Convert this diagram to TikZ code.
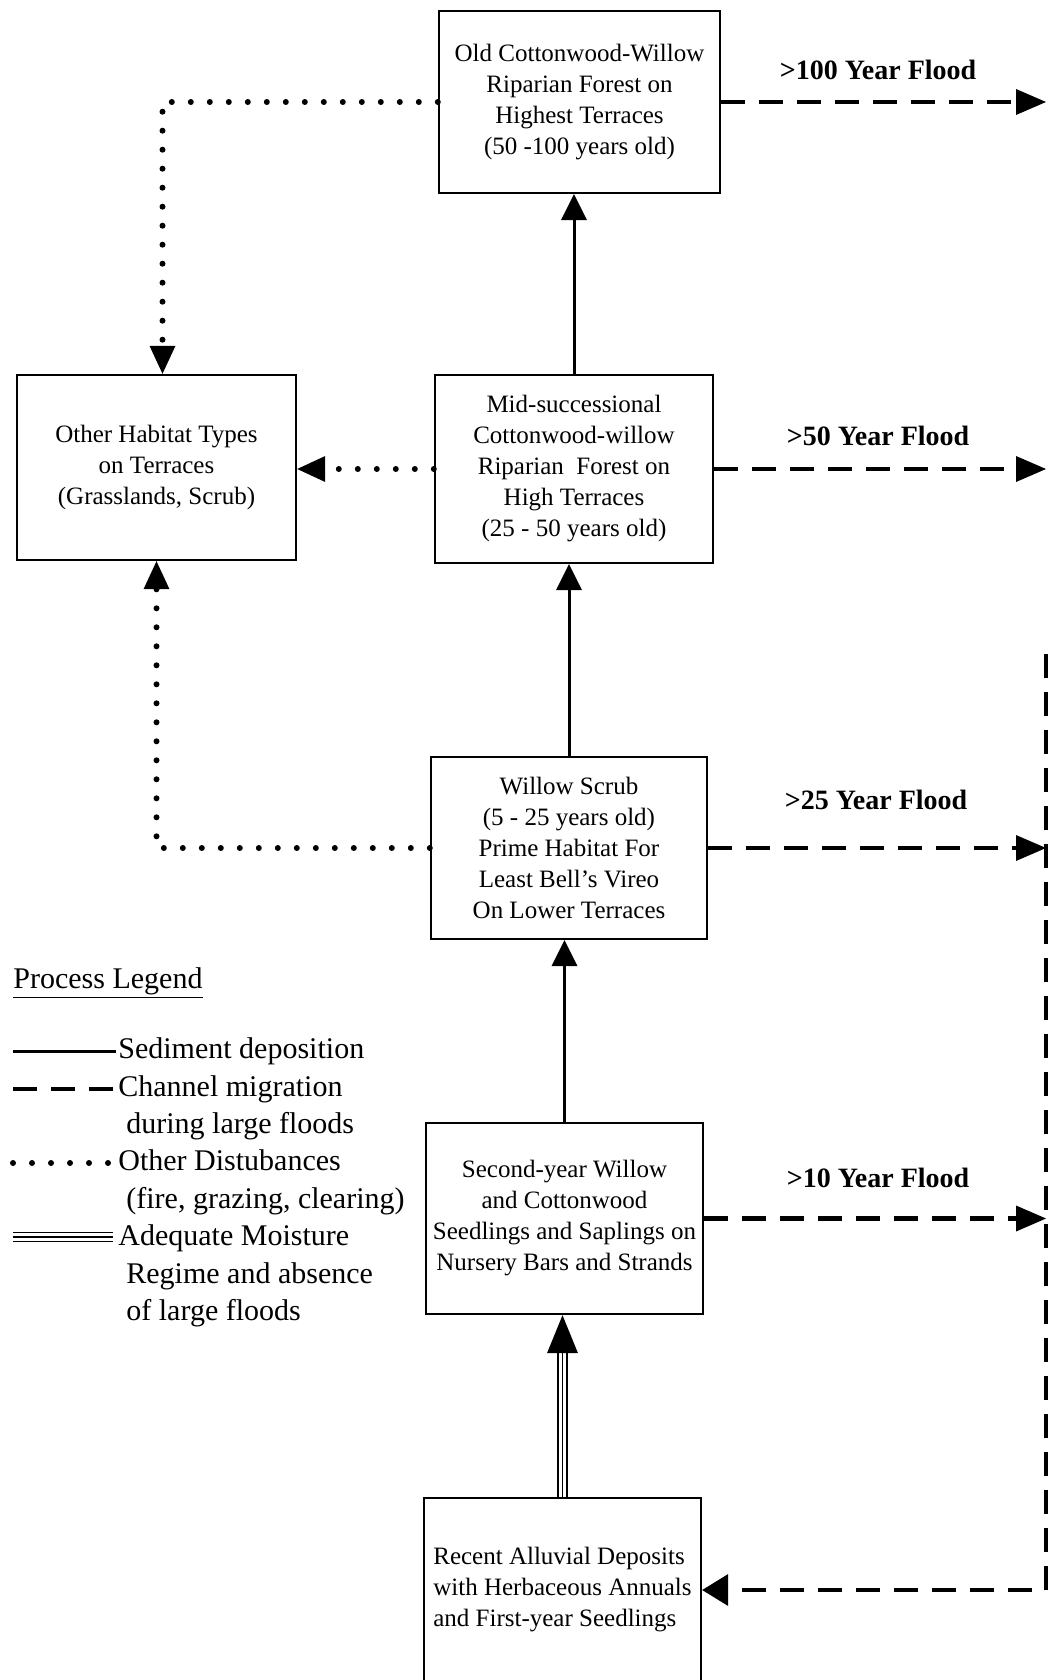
\documentclass[tikz,border=0pt]{standalone}
\usepackage{fontspec}
\setmainfont{Liberation Serif}
\usetikzlibrary{arrows.meta,positioning}

\tikzset{
  stage/.style={draw, line width=1.2pt, align=center, inner sep=2pt,
    font=\fontsize{12.5}{15.5}\selectfont},
  floodlabel/.style={font=\fontsize{14}{17}\selectfont\bfseries},
  legtext/.style={font=\fontsize{15}{18.75}\selectfont, inner sep=0pt},
  solidline/.style={line width=1.5pt},
  dashline/.style={line width=2.2pt, dash pattern=on 12pt off 7pt},
  dotline/.style={line width=3pt, line cap=round, dash pattern=on 0pt off 9.5pt},
  moist/.style={double, double distance=3.6pt, line width=0.9pt},
  bigtip/.style={-{Triangle[length=#1,width=13pt,line width=0pt]}},
  bigtip/.default=14pt
}

\begin{document}
\begin{tikzpicture}[x=0.5pt,y=-0.5pt]
\useasboundingbox (0,0) rectangle (1048,1680);

% -------- Succession stages --------
\node[stage, minimum width=140.5pt, minimum height=91pt] (old) at (579.5,102)
  {Old Cottonwood-Willow\\Riparian Forest on\\Highest Terraces\\(50 -100 years old)};

\node[stage, minimum width=139pt, minimum height=94pt] (mid) at (574,469)
  {Mid-successional\\Cottonwood-willow\\Riparian\ \ Forest on\\High Terraces\\(25 - 50 years old)};

\node[stage, minimum width=139.5pt, minimum height=92.5pt] (other) at (156.5,467.5)
  {Other Habitat Types\\on Terraces\\(Grasslands, Scrub)};

\node[stage, minimum width=138pt, minimum height=91pt] (scrub) at (569,848)
  {Willow Scrub\\(5 - 25 years old)\\Prime Habitat For\\Least Bell's Vireo\\On Lower Terraces};

\node[stage, minimum width=138.5pt, minimum height=95.5pt] (second) at (564.5,1218.5)
  {Second-year Willow\\and Cottonwood\\Seedlings and Saplings on\\Nursery Bars and Strands};

\node[stage, align=left, minimum width=138.5pt, minimum height=92pt] (recent) at (562.5,1590)
  {Recent Alluvial Deposits\\with Herbaceous Annuals\\and First-year Seedlings};

% -------- Sediment deposition --------
\draw[solidline, bigtip=13pt] (mid.north) -- (mid.north |- old.south);
\draw[solidline, bigtip=13pt] (scrub.north) -- (scrub.north |- mid.south);
\draw[solidline, bigtip=13pt] (second.north) -- (second.north |- scrub.south);

% -------- Moisture regime --------
\draw[moist, shorten >=17pt] (recent.north) -- (recent.north |- second.south);
\draw[line width=0.7pt, -{Triangle[length=19pt,width=15.5pt,line width=0pt]}]
  (recent.north) -- (recent.north |- second.south);

% -------- Other disturbances --------
\draw[dotline, bigtip] (old.west) -| ([xshift=3pt]other.north);
\draw[dotline, bigtip] (mid.west) -- (mid.west -| other.east);
\draw[dotline, bigtip] (scrub.west) -| (other.south);

% -------- Channel migration --------
\coordinate (riverTop) at (1046,654);
\draw[dashline, bigtip=15pt] (old.east) -- (old.east -| riverTop);
\draw[dashline, bigtip=15pt] (mid.east) -- (mid.east -| riverTop);
\draw[dashline, bigtip=15pt] (scrub.east) -- (scrub.east -| riverTop);
\draw[dashline, bigtip=15pt] (second.east) -- (second.east -| riverTop);
\draw[dashline, -{Triangle[length=13pt,width=16pt,line width=0pt]}] (riverTop) |- (recent.east);

\node[floodlabel] (f100) at (878,70) {>100 Year Flood};
\node[floodlabel] (f50) at (878,436) {>50 Year Flood};
\node[floodlabel] (f25) at (876,800) {>25 Year Flood};
\node[floodlabel] (f10) at (878,1178) {>10 Year Flood};

% -------- Legend --------
\node[legtext, anchor=base west] (legtitle) at (13,988) {\underline{Process Legend}};

\coordinate (legA) at (13,1051);
\coordinate (legB) at (13,1089);
\coordinate (legC) at (13,1163);
\coordinate (legD) at (13,1237);
\draw[solidline] (legA) -- ++(103,0);
\draw[dashline] (legB) -- ++(103,0);
\draw[dotline] (legC) -- ++(96,0);
\draw[moist] (legD) -- ++(100,0);
\draw[line width=0.7pt] (legD) -- ++(100,0);

\node[legtext, anchor=base west] (leg1) at (118,1058) {Sediment deposition};
\node[legtext, anchor=base west] (leg2) at (118,1096) {Channel migration};
\node[legtext, anchor=base west] (leg3) at (126,1133) {during large floods};
\node[legtext, anchor=base west] (leg4) at (118,1170) {Other Distubances};
\node[legtext, anchor=base west] (leg5) at (126,1208) {(fire, grazing, clearing)};
\node[legtext, anchor=base west] (leg6) at (118,1245) {Adequate Moisture};
\node[legtext, anchor=base west] (leg7) at (126,1283) {Regime and absence};
\node[legtext, anchor=base west] (leg8) at (126,1320) {of large floods};

\end{tikzpicture}
\end{document}
